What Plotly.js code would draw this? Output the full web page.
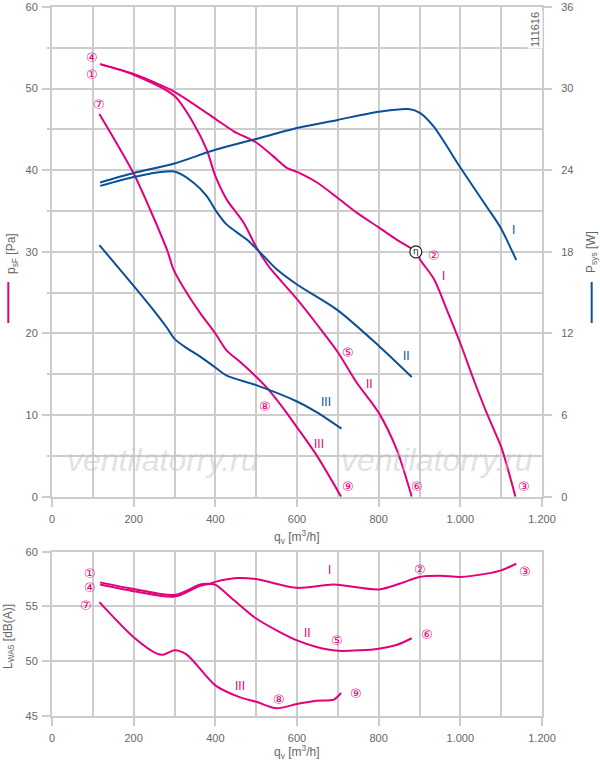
<!DOCTYPE html>
<html>
<head>
<meta charset="utf-8">
<script src="https://cdn.plot.ly/plotly-3.0.1.min.js"></script>
<style>html,body{margin:0;padding:0;background:#fff;}#chart{width:600px;height:760px;}</style>
</head>
<body>
<div id="chart"></div>
<script>
// ---------- data ----------
const xTickVals = [0, 200, 400, 600, 800, 1000, 1200];
const xTickText = ['0', '200', '400', '600', '800', '1.000', '1.200'];
const pTickVals = [0, 10, 20, 30, 40, 50, 60];
const wTickVals = [0, 6, 12, 18, 24, 30, 36];
const lTickVals = [45, 50, 55, 60];

// static pressure p_sF [Pa], speeds I, II, III
const qPI  = [118, 200, 240, 300, 400, 444, 500, 542, 575, 600, 649, 700, 746, 800, 844, 891, 902, 935, 967, 1000, 1033, 1065, 1100, 1118, 1135];
const pPI  = [53.0, 51.8, 51.0, 49.6, 46.3, 44.8, 43.4, 41.7, 40.3, 39.8, 38.5, 36.6, 34.8, 33.0, 31.5, 30.0, 29.0, 26.7, 22.9, 18.8, 14.3, 10.2, 6.1, 3.1, 0];
const qPII = [118, 200, 300, 346, 379, 400, 428, 469, 500, 520, 534, 600, 649, 700, 746, 800, 844, 881];
const pPII = [53.0, 51.7, 49.1, 45.8, 42.5, 39.3, 36.4, 33.6, 30.6, 29.0, 28.0, 24.2, 21.1, 17.7, 14.0, 10.3, 5.8, 0];
const qPIII = [116, 200, 241, 282, 298, 331, 363, 400, 428, 461, 500, 527, 567, 600, 649, 708];
const pPIII = [46.9, 39.6, 35.1, 30.2, 27.8, 24.9, 22.5, 20.0, 17.9, 16.5, 14.7, 13.3, 10.8, 8.5, 5.0, 0];

// power P_sys [W], speeds I, II, III
const qWI  = [118, 200, 300, 400, 500, 600, 700, 800, 873, 902, 935, 1000, 1065, 1098, 1137];
const wWI  = [23.1, 23.8, 24.5, 25.5, 26.3, 27.1, 27.7, 28.3, 28.5, 28.2, 27.2, 24.2, 21.3, 19.8, 17.4];
const qWII = [118, 200, 240, 300, 346, 379, 404, 428, 477, 518, 551, 600, 700, 800, 881];
const wWII = [22.85, 23.5, 23.75, 23.9, 23.1, 22.1, 20.9, 20.0, 18.9, 17.7, 16.7, 15.6, 13.7, 11.1, 8.8];
const qWIII = [116, 200, 249, 282, 300, 331, 363, 400, 428, 500, 600, 649, 709];
const wWIII = [18.5, 15.5, 13.7, 12.4, 11.6, 10.9, 10.3, 9.5, 8.9, 8.2, 7.0, 6.2, 5.0];

// sound power L_WA5 [dB(A)], speeds I, II, III
const qLI  = [118, 200, 300, 363, 388, 400, 453, 500, 600, 690, 800, 853, 900, 951, 1000, 1065, 1100, 1137];
const lLI  = [57.2, 56.6, 56.05, 57.0, 57.1, 57.25, 57.6, 57.5, 56.7, 57.0, 56.55, 57.1, 57.7, 57.8, 57.7, 58.0, 58.3, 58.9];
const qLII = [118, 200, 300, 363, 388, 400, 445, 500, 551, 600, 648, 700, 755, 800, 845, 881];
const lLII = [57.0, 56.4, 55.9, 56.9, 57.05, 57.0, 55.6, 53.9, 52.8, 51.9, 51.3, 50.95, 51.0, 51.15, 51.5, 52.1];
const qLIII = [116, 200, 257, 273, 300, 330, 400, 461, 500, 550, 600, 648, 690, 708];
const lLIII = [55.4, 52.2, 50.7, 50.6, 51.0, 50.6, 47.8, 46.7, 46.3, 45.7, 46.1, 46.4, 46.5, 47.1];

// operating-point labels [text, q, value on left scale]
const topLabels = [
  ['④', 98, 53.8], ['①', 98, 51.75], ['⑦', 114, 48.0], ['②', 936, 29.6], ['③', 1157, 1.2],
  ['⑥', 895, 1.2], ['⑨', 725, 1.2], ['⑤', 724, 17.7], ['⑧', 521, 11.1]
];
const topRomanP = [['I', 958, 27.0], ['II', 778, 13.8], ['III', 653, 6.45]];
const topRomanW = [['I', 1131, 32.65], ['II', 869, 17.2], ['III', 671, 11.6]];
const botLabels = [
  ['①', 92, 58.05], ['④', 92, 56.75], ['⑦', 84, 55.1], ['②', 900, 58.4], ['③', 1159, 58.2],
  ['⑤', 698, 51.9], ['⑥', 918, 52.4], ['⑧', 557, 46.5], ['⑨', 745, 47.1]
];
const botRoman = [['I', 679, 58.3], ['II', 626, 52.6], ['III', 460, 47.7]];
const etaIndex = 15; // optimum point on curve I (q=891)

// ---------- styles ----------
const MAG = '#e3007b';
const BLUE = '#0b4f97';
const GRID = '#cdcdcd';
const TXT = '#666666';
const FONT = 'Liberation Sans, Arial, sans-serif';
const GW = 2;

function line(x, y, color, xa, ya) {
  return {x: x, y: y, xaxis: xa, yaxis: ya, type: 'scatter', mode: 'lines',
    line: {color: color, width: 2, shape: 'spline', smoothing: 0.8}, hoverinfo: 'skip'};
}

const traces = [
  line(qWI, wWI, BLUE, 'x', 'y3'),
  line(qWII, wWII, BLUE, 'x', 'y3'),
  line(qWIII, wWIII, BLUE, 'x', 'y3'),
  line(qPI, pPI, MAG, 'x', 'y'),
  line(qPII, pPII, MAG, 'x', 'y'),
  line(qPIII, pPIII, MAG, 'x', 'y'),
  line(qLI, lLI, MAG, 'x2', 'y2'),
  line(qLII, lLII, MAG, 'x2', 'y2'),
  line(qLIII, lLIII, MAG, 'x2', 'y2'),
  {x: [qPI[etaIndex]], y: [pPI[etaIndex]], xaxis: 'x', yaxis: 'y', type: 'scatter', mode: 'markers+text',
   marker: {symbol: 'circle', size: 12, color: 'white', line: {color: '#222', width: 1.2}},
   text: ['η'], textposition: 'middle center', textfont: {family: 'DejaVu Sans', size: 9, color: '#222'},
   hoverinfo: 'skip'}
];

const annotations = [];
function lab(arr, xr, yr, color, fam, size) {
  arr.forEach(function (a) {
    annotations.push({x: a[1], y: a[2], xref: xr, yref: yr, text: a[0], showarrow: false,
      xanchor: 'center', yanchor: 'middle',
      font: {family: fam, size: size, color: color}});
  });
}
lab(topLabels, 'x', 'y', MAG, 'DejaVu Sans', 13);
lab(topRomanP, 'x', 'y', MAG, FONT, 12);
lab(topRomanW, 'x', 'y', BLUE, FONT, 12);
lab(botLabels, 'x2', 'y2', MAG, 'DejaVu Sans', 13);
lab(botRoman, 'x2', 'y2', MAG, FONT, 12);

function P(x, y, text, opts) {
  return Object.assign({x: x, y: y, xref: 'paper', yref: 'paper', text: text, showarrow: false,
    xanchor: 'center', yanchor: 'middle',
    font: {family: FONT, size: 12, color: TXT}}, opts || {});
}
annotations.push(P(0.5, 0.2525, 'q<sub>v</sub> [m<sup>3</sup>/h]'));
annotations.push(P(0.5, -0.0508, 'q<sub>v</sub> [m<sup>3</sup>/h]'));
annotations.push(P(-0.0816, 0.6516, 'p<sub>sF</sub> [Pa]', {textangle: -90}));
annotations.push(P(1.102, 0.6544, 'P<sub>sys</sub> [W]', {textangle: -90}));
annotations.push(P(-0.0878, 0.1128, 'L<sub>WA5</sub> [dB(A)]', {textangle: -90}));
annotations.push(P(0.9857, 0.969, '111616', {textangle: -90, bgcolor: 'white', font: {family: FONT, size: 11, color: TXT}}));
annotations.push(P(0.2265, 0.361, 'ventilatorry.ru', {font: {family: FONT, size: 32, color: 'rgba(190,190,190,0.45)', style: 'italic'}}));
annotations.push(P(0.786, 0.361, 'ventilatorry.ru', {font: {family: FONT, size: 32, color: 'rgba(190,190,190,0.45)', style: 'italic'}}));

const xCommon = {
  range: [0, 1200], tickvals: xTickVals, ticktext: xTickText, ticks: 'outside', ticklen: 8,
  tickcolor: GRID, tickwidth: GW, showgrid: true, gridcolor: GRID, gridwidth: GW,
  minor: {dtick: 100, tick0: 0, showgrid: true, gridcolor: GRID, gridwidth: GW, ticks: ''},
  showline: true, linecolor: GRID, linewidth: GW, mirror: true, zeroline: false,
  tickfont: {family: FONT, size: 11, color: TXT}, ticklabelstandoff: 3, fixedrange: true
};

const layout = {
  width: 600, height: 760,
  margin: {l: 52, r: 58, t: 7, b: 44},
  paper_bgcolor: 'white', plot_bgcolor: 'white',
  showlegend: false,
  font: {family: FONT, size: 11, color: TXT},
  xaxis: Object.assign({}, xCommon, {domain: [0, 1], anchor: 'y'}),
  xaxis2: Object.assign({}, xCommon, {domain: [0, 1], anchor: 'y2'}),
  yaxis: {
    domain: [0.3093, 1], anchor: 'x', range: [0, 60], tickvals: pTickVals,
    ticks: 'outside', ticklen: 8, tickcolor: GRID, tickwidth: GW,
    showgrid: true, gridcolor: GRID, gridwidth: GW,
    minor: {dtick: 5, tick0: 0, showgrid: true, gridcolor: GRID, gridwidth: GW, ticks: 'outside', ticklen: 3, tickcolor: GRID, tickwidth: GW},
    showline: true, linecolor: GRID, linewidth: GW, mirror: true, zeroline: false,
    tickfont: {family: FONT, size: 11, color: TXT}, ticklabelstandoff: 2, fixedrange: true
  },
  yaxis3: {
    overlaying: 'y', side: 'right', anchor: 'x', range: [0, 36], tickvals: wTickVals,
    ticks: 'outside', ticklen: 8, tickcolor: GRID, tickwidth: GW,
    showgrid: false, showline: true, linecolor: GRID, linewidth: GW, zeroline: false,
    tickfont: {family: FONT, size: 11, color: TXT}, ticklabelstandoff: 7, fixedrange: true
  },
  yaxis2: {
    domain: [0, 0.2317], anchor: 'x2', range: [45, 60], tickvals: lTickVals,
    ticks: 'outside', ticklen: 8, tickcolor: GRID, tickwidth: GW,
    showgrid: true, gridcolor: GRID, gridwidth: GW,
    showline: true, linecolor: GRID, linewidth: GW, mirror: true, zeroline: false,
    tickfont: {family: FONT, size: 11, color: TXT}, ticklabelstandoff: 2, fixedrange: true
  },
  annotations: annotations,
  shapes: [
    {type: 'line', xref: 'paper', yref: 'paper', x0: -0.0892, x1: -0.0892, y0: 0.5543, y1: 0.6121, line: {color: MAG, width: 2}},
    {type: 'line', xref: 'paper', yref: 'paper', x0: 1.1014, x1: 1.1014, y0: 0.5543, y1: 0.6121, line: {color: BLUE, width: 2}}
  ]
};

Plotly.newPlot('chart', traces, layout, {displayModeBar: false, staticPlot: true});
</script>
</body>
</html>
